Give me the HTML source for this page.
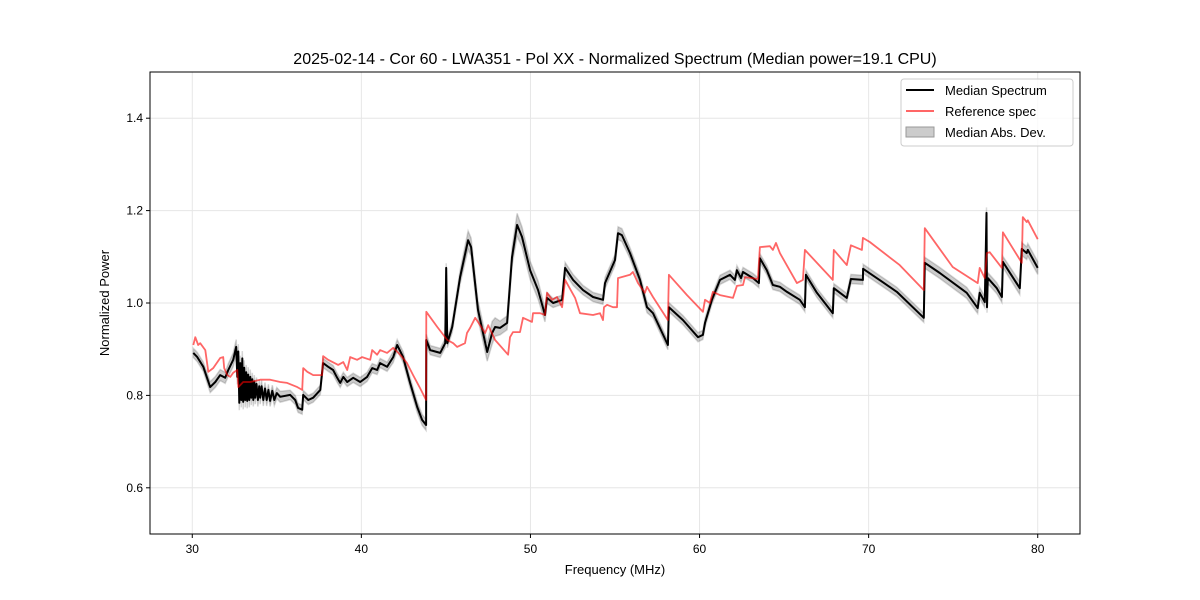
<!DOCTYPE html>
<html><head><meta charset="utf-8"><style>
body{margin:0;background:#fff}
svg{display:block;font-family:"Liberation Sans","DejaVu Sans",sans-serif}
</style></head><body>
<svg id="chart" width="1200" height="600" viewBox="0 0 1200 600">
<rect width="1200" height="600" fill="#fff"/>
<g id="grid"></g>
<g id="marks"></g>
<rect x="150" y="72" width="930" height="462" fill="none" stroke="#000" stroke-width="1"/>
<g id="axes"></g>
<text x="615" y="64" text-anchor="middle" font-size="16">2025-02-14 - Cor 60 - LWA351 - Pol XX - Normalized Spectrum (Median power=19.1 CPU)</text>
<text x="615" y="574" text-anchor="middle" font-size="13">Frequency (MHz)</text>
<text x="109" y="303" text-anchor="middle" font-size="13" transform="rotate(-90 109 303)">Normalized Power</text>
<g>
<rect x="901" y="79" width="172" height="67" rx="3" fill="#fff" fill-opacity="0.8" stroke="#ccc"/>
<g><line x1="906" y1="90" x2="934" y2="90" stroke="#000" stroke-width="2"/><text x="945" y="95" font-size="13">Median Spectrum</text></g>
<g><line x1="906" y1="111" x2="934" y2="111" stroke="rgba(255,0,0,0.6)" stroke-width="2"/><text x="945" y="116" font-size="13">Reference spec</text></g>
<g><rect x="906" y="127" width="28" height="10" fill="#000" fill-opacity="0.2" stroke="#999"/><text x="945" y="137" font-size="13">Median Abs. Dev.</text></g>
</g>
</svg>
<script>
const xTicks=[30,40,50,60,70,80];
const yTicks=[0.6,0.8,1.0,1.2,1.4];
const yTickLabels=["0.6","0.8","1.0","1.2","1.4"];
const medFreqLow=[30.06,30.30,30.65,31.06,31.36,31.65,31.95,32.13,32.42];
const medPowerLow=[0.892,0.883,0.862,0.818,0.829,0.844,0.838,0.855,0.877];
const medMadLow=[0.010,0.010,0.010,0.012,0.012,0.012,0.012,0.014,0.015];
const medFreqNoise=[32.60,32.66,32.72,32.78,32.84,32.90,32.96,33.01,33.07,33.13,33.19,33.25,33.31,33.37,33.43,33.49,33.55,33.61,33.67,33.72,33.80,33.88,33.96,34.02,34.10,34.20,34.30,34.40,34.50,34.60,34.73,34.85,35.00,35.20];
const medPowerNoise=[0.905,0.840,0.895,0.784,0.870,0.790,0.880,0.786,0.860,0.790,0.850,0.788,0.845,0.790,0.840,0.795,0.835,0.790,0.830,0.795,0.825,0.790,0.820,0.795,0.820,0.790,0.815,0.790,0.812,0.788,0.810,0.790,0.805,0.797];
const medMadNoise=[0.016,0.016,0.016,0.016,0.016,0.016,0.016,0.016,0.016,0.016,0.016,0.016,0.016,0.016,0.016,0.016,0.014,0.014,0.014,0.014,0.014,0.014,0.014,0.014,0.013,0.013,0.013,0.013,0.012,0.012,0.012,0.012,0.012,0.012];
const medFreqHigh=[35.79,36.09,36.26,36.50,36.56,36.86,37.15,37.57,37.74,38.04,38.33,38.57,38.75,38.93,39.16,39.52,39.93,40.34,40.64,40.93,41.11,41.52,41.88,42.12,42.47,42.88,43.30,43.59,43.83,43.84,44.07,44.66,44.96,45.02,45.08,45.37,45.84,46.31,46.49,46.90,47.44,47.73,47.91,48.20,48.62,48.91,49.21,49.50,49.98,50.45,50.86,50.98,51.34,51.87,52.05,52.52,53.11,53.70,54.29,54.41,55.00,55.18,55.41,55.89,56.48,56.89,57.25,58.13,58.19,59.02,59.91,60.20,60.32,60.73,61.21,61.80,62.09,62.21,62.45,62.57,63.16,63.51,63.57,63.98,64.34,64.75,65.17,65.93,66.23,66.29,66.94,67.88,67.94,68.71,68.95,69.66,69.67,70.84,71.67,73.26,73.32,74.21,75.80,76.45,76.57,76.87,76.97,77.00,77.05,77.58,77.88,77.94,78.94,79.06,79.35,79.41,80.00];
const medPowerHigh=[0.801,0.790,0.773,0.769,0.801,0.790,0.795,0.812,0.870,0.862,0.855,0.838,0.827,0.840,0.829,0.838,0.829,0.840,0.859,0.855,0.870,0.862,0.883,0.909,0.883,0.827,0.775,0.747,0.736,0.920,0.898,0.892,0.913,1.076,0.913,0.948,1.056,1.136,1.121,0.985,0.894,0.935,0.948,0.946,0.957,1.099,1.169,1.143,1.071,1.028,0.974,1.011,1.000,1.007,1.076,1.050,1.028,1.013,1.007,1.043,1.093,1.151,1.147,1.108,1.050,0.991,0.978,0.909,0.991,0.963,0.926,0.931,0.957,1.007,1.050,1.061,1.050,1.071,1.054,1.067,1.054,1.043,1.097,1.071,1.039,1.035,1.024,1.007,0.991,1.061,1.022,0.978,1.032,1.011,1.052,1.050,1.074,1.045,1.024,0.968,1.087,1.065,1.022,0.989,1.022,1.002,1.195,0.991,1.054,1.032,1.013,1.089,1.032,1.117,1.108,1.115,1.076];
const medMadHigh=[0.010,0.010,0.010,0.010,0.010,0.010,0.010,0.010,0.010,0.010,0.010,0.010,0.010,0.010,0.010,0.010,0.010,0.010,0.010,0.010,0.010,0.010,0.012,0.012,0.012,0.012,0.012,0.012,0.012,0.012,0.010,0.010,0.010,0.010,0.010,0.012,0.015,0.020,0.020,0.020,0.020,0.025,0.020,0.015,0.015,0.020,0.025,0.022,0.020,0.020,0.015,0.012,0.010,0.010,0.012,0.012,0.010,0.010,0.010,0.012,0.012,0.014,0.014,0.012,0.012,0.012,0.010,0.010,0.010,0.010,0.010,0.010,0.010,0.010,0.010,0.010,0.010,0.010,0.010,0.010,0.010,0.010,0.010,0.010,0.010,0.010,0.010,0.010,0.010,0.010,0.010,0.010,0.010,0.010,0.010,0.010,0.010,0.010,0.010,0.010,0.012,0.012,0.012,0.012,0.012,0.012,0.012,0.012,0.012,0.012,0.012,0.012,0.014,0.014,0.014,0.014,0.014];
const refFreq=[30.06,30.18,30.35,30.47,30.77,30.95,31.24,31.65,31.83,31.89,32.07,32.25,32.42,32.66,32.72,33.01,33.43,34.02,34.61,35.20,35.61,36.21,36.50,36.56,36.80,37.15,37.68,37.74,38.04,38.63,38.93,39.16,39.34,39.75,40.05,40.52,40.64,40.93,41.11,41.52,41.88,42.29,42.70,43.06,43.47,43.83,43.84,44.49,45.08,45.43,45.66,46.13,46.25,46.43,46.73,47.02,47.32,47.50,47.91,48.68,48.79,48.97,49.38,49.56,50.09,50.15,50.57,50.86,50.98,51.28,51.57,51.87,52.05,52.64,52.93,53.70,54.11,54.29,54.35,54.53,54.88,55.12,55.18,55.89,56.06,56.36,56.77,56.89,57.25,58.13,58.19,59.26,60.20,60.32,60.61,60.79,61.21,61.98,62.21,62.57,62.69,63.45,63.57,64.16,64.34,64.52,64.75,65.76,66.11,66.23,67.88,67.94,68.71,68.95,69.60,69.66,70.07,71.84,73.26,73.32,74.97,76.45,76.57,76.87,76.99,77.16,77.88,77.94,79.06,79.12,79.35,79.41,80.00];
const refPower=[0.909,0.926,0.909,0.913,0.898,0.851,0.859,0.881,0.883,0.859,0.844,0.840,0.849,0.855,0.818,0.829,0.829,0.834,0.834,0.829,0.827,0.818,0.812,0.859,0.851,0.844,0.844,0.885,0.877,0.866,0.872,0.855,0.883,0.877,0.883,0.877,0.898,0.888,0.898,0.892,0.903,0.888,0.870,0.844,0.816,0.790,0.981,0.948,0.920,0.913,0.905,0.913,0.935,0.946,0.968,0.952,0.935,0.952,0.920,0.888,0.926,0.937,0.937,0.968,0.959,0.978,0.978,0.974,1.022,1.007,1.013,0.991,1.050,1.011,0.978,0.974,0.978,0.963,0.991,0.996,0.991,0.991,1.054,1.061,1.067,1.043,1.022,1.035,1.013,0.963,1.061,1.017,0.981,1.007,1.000,1.024,1.017,1.011,1.037,1.039,1.056,1.052,1.121,1.123,1.115,1.130,1.108,1.043,1.050,1.115,1.050,1.115,1.082,1.125,1.115,1.141,1.132,1.082,1.028,1.162,1.078,1.043,1.076,1.054,1.108,1.110,1.076,1.153,1.087,1.186,1.175,1.179,1.138];

const medFreq=medFreqLow.concat(medFreqNoise,medFreqHigh);
const medPower=medPowerLow.concat(medPowerNoise,medPowerHigh);
const medMad=medMadLow.concat(medMadNoise,medMadHigh);

const NS='http://www.w3.org/2000/svg';
const X0=150,X1=1080,Y0=534,Y1=72,XMIN=27.5,XMAX=82.5,YMIN=0.5,YMAX=1.5;
function xs(v){return X0+(v-XMIN)/(XMAX-XMIN)*(X1-X0);}
function ys(v){return Y0-(v-YMIN)/(YMAX-YMIN)*(Y0-Y1);}
function mk(tag,attrs,parent){const e=document.createElementNS(NS,tag);for(const k in attrs)e.setAttribute(k,attrs[k]);parent.appendChild(e);return e;}
const grid=document.getElementById('grid'),axes=document.getElementById('axes'),marks=document.getElementById('marks');
xTicks.forEach(t=>{
 const g=mk('line',{x1:xs(t),x2:xs(t),y1:Y1,y2:Y0,stroke:'#e6e6e6','stroke-width':1},grid);
 
 
 const tk=mk('line',{x1:xs(t),x2:xs(t),y1:Y0,y2:Y0+4,stroke:'#000'},axes);
 
 
 const tl=mk('text',{x:xs(t),y:Y0+19,'text-anchor':'middle','font-size':12},axes);
 tl.textContent=String(t);
 
 
});
yTicks.forEach((t,i)=>{
 const g=mk('line',{x1:X0,x2:X1,y1:ys(t),y2:ys(t),stroke:'#e6e6e6','stroke-width':1},grid);
 
 
 const tk=mk('line',{x1:X0-4,x2:X0,y1:ys(t),y2:ys(t),stroke:'#000'},axes);
 
 
 const tl=mk('text',{x:X0-7,y:ys(t)+4,'text-anchor':'end','font-size':12},axes);
 tl.textContent=yTickLabels[i];
 
 
});
let up=[],dn=[];
medFreq.forEach((f,i)=>{up.push(xs(f).toFixed(1)+','+ys(medPower[i]+medMad[i]).toFixed(1));});
for(let i=medFreq.length-1;i>=0;i--)dn.push(xs(medFreq[i]).toFixed(1)+','+ys(medPower[i]-medMad[i]).toFixed(1));
const band=mk('polygon',{points:up.concat(dn).join(' '),fill:'#000','fill-opacity':0.2,stroke:'#000','stroke-opacity':0.15,'stroke-width':1.5},marks);


const med=mk('polyline',{points:medFreq.map((f,i)=>xs(f).toFixed(1)+','+ys(medPower[i]).toFixed(1)).join(' '),fill:'none',stroke:'#000','stroke-width':2,'stroke-linejoin':'round'},marks);


const ref=mk('polyline',{points:refFreq.map((f,i)=>xs(f).toFixed(1)+','+ys(refPower[i]).toFixed(1)).join(' '),fill:'none',stroke:'#ff0000','stroke-opacity':0.6,'stroke-width':1.8,'stroke-linejoin':'round'},marks);


</script>
</body></html>
